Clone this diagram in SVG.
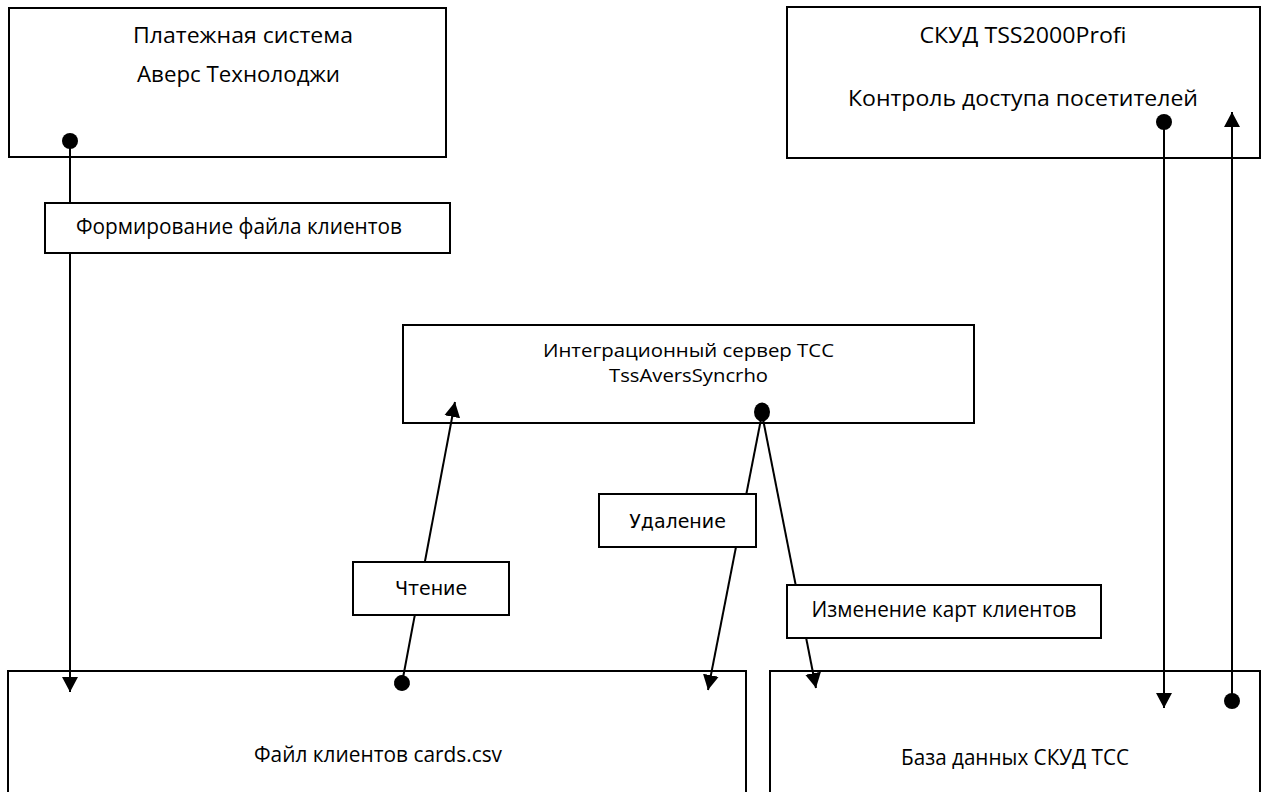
<svg xmlns="http://www.w3.org/2000/svg" width="1268" height="792" viewBox="0 0 1268 792">
<style>
.box{fill:#fff;stroke:#000;stroke-width:2}
.lbl{fill:#fff;stroke:#000;stroke-width:2}
.t{font-family:"Open Sans","Noto Sans","Liberation Sans",sans-serif;font-size:21px;fill:#000;text-anchor:middle}
.s{font-size:18px}
.d{font-family:"DejaVu Sans","Liberation Sans",sans-serif;font-size:19px;fill:#000;text-anchor:middle}
.c{fill:none;stroke:#000;stroke-width:2}
</style>
<defs>
<marker id="arr" markerUnits="userSpaceOnUse" markerWidth="16" markerHeight="16" refX="15" refY="8" orient="auto" viewBox="0 0 16 16">
<path d="M0,0 L15,8 L0,16 Z" fill="#000"/>
</marker>
<marker id="dot" markerUnits="userSpaceOnUse" markerWidth="18" markerHeight="18" refX="9" refY="9" orient="auto" viewBox="0 0 18 18">
<circle cx="9" cy="9" r="8" fill="#000"/>
</marker>
</defs>
<rect width="1268" height="792" fill="#fff"/>
<g id="node-payment">
<rect class="box" x="9" y="8" width="437" height="149"/>
<text class="t" x="243" y="43" textLength="220" lengthAdjust="spacingAndGlyphs">Платежная система</text>
<text class="t" x="238.5" y="82" textLength="203" lengthAdjust="spacingAndGlyphs">Аверс Технолоджи</text>
</g>
<g id="node-skud">
<rect class="box" x="787" y="7" width="473" height="151"/>
<text class="t" x="1023" y="43" textLength="207" lengthAdjust="spacingAndGlyphs">СКУД TSS2000Profi</text>
<text class="t" x="1023" y="106" textLength="350" lengthAdjust="spacingAndGlyphs">Контроль доступа посетителей</text>
</g>
<g id="node-server">
<rect class="box" x="403" y="325" width="571" height="98"/>
<text class="t s" x="688.5" y="357" textLength="291" lengthAdjust="spacingAndGlyphs">Интеграционный сервер ТСС</text>
<text class="t s" x="688.5" y="382" textLength="159" lengthAdjust="spacingAndGlyphs">TssAversSyncrho</text>
</g>
<g id="node-file">
<rect class="box" x="8" y="671" width="738" height="140"/>
<text class="t" x="378" y="762" textLength="248" lengthAdjust="spacingAndGlyphs">Файл клиентов cards.csv</text>
</g>
<g id="node-db">
<rect class="box" x="770" y="671" width="490" height="140"/>
<text class="t" x="1015" y="765" textLength="228" lengthAdjust="spacingAndGlyphs">База данных СКУД ТСС</text>
</g>
<g id="connectors">
<path class="c" d="M70,141 L70,692" marker-start="url(#dot)" marker-end="url(#arr)"/>
<path class="c" d="M402,683 L455,402" marker-start="url(#dot)" marker-end="url(#arr)"/>
<path class="c" d="M762,414 L708,690" marker-end="url(#arr)"/>
<path class="c" d="M762,414 L816,688" marker-end="url(#arr)"/>
<ellipse cx="762" cy="412" rx="8" ry="9.5" fill="#000"/>
<path class="c" d="M1164,122 L1164,708" marker-start="url(#dot)" marker-end="url(#arr)"/>
<path class="c" d="M1232,701 L1232,112" marker-start="url(#dot)" marker-end="url(#arr)"/>
</g>
<g id="label-form">
<rect class="lbl" x="45" y="203" width="405" height="50"/>
<text class="t" x="239" y="234" textLength="326" lengthAdjust="spacingAndGlyphs">Формирование файла клиентов</text>
</g>
<g id="label-read">
<rect class="lbl" x="353" y="562" width="156" height="53"/>
<text class="d" x="431" y="595">Чтение</text>
</g>
<g id="label-delete">
<rect class="lbl" x="599" y="494" width="157" height="53"/>
<text class="d" x="677.5" y="528">Удаление</text>
</g>
<g id="label-change">
<rect class="lbl" x="787" y="585" width="314" height="53"/>
<text class="t" x="944" y="617" textLength="265" lengthAdjust="spacingAndGlyphs">Изменение карт клиентов</text>
</g>
</svg>
